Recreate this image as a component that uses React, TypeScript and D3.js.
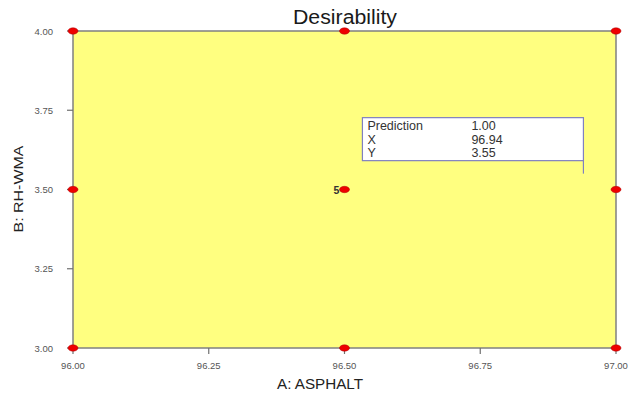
import React from "react";
import * as d3 from "d3";

const xTicks = [96.0, 96.25, 96.5, 96.75, 97.0];
const yTicks = [3.0, 3.25, 3.5, 3.75, 4.0];
const designX = [96.0, 96.0, 96.0, 96.5, 96.5, 96.5, 97.0, 97.0, 97.0];
const designY = [3.0, 3.5, 4.0, 3.0, 3.5, 4.0, 3.0, 3.5, 4.0];
const centerCount = "5";
const predLabels = ["Prediction", "X", "Y"];
const predValues = ["1.00", "96.94", "3.55"];
const predX = 96.94;
const predY = 3.55;

export default function App() {
  const W = 628, H = 397;
  const left = 73, right = 616, top = 31, bottom = 348;
  const x = d3.scaleLinear().domain([96, 97]).range([left, right]);
  const y = d3.scaleLinear().domain([3, 4]).range([bottom, top]);
  const font = "Arial, 'Liberation Sans', sans-serif";
  const px = x(predX), py = y(predY);
  const boxW = 221, boxH = 43, boxDrop = 13;
  const bx = px - boxW, by = py - boxDrop - boxH;
  return (
    <svg width={W} height={H} style={{ position: "absolute", left: 0, top: 0 }} fontFamily={font}>
      <rect x={0} y={0} width={W} height={H} fill="#fff" />
      <text x={345} y={24} textAnchor="middle" fontSize={19.5} fill="#1a1a1a" textLength={104} lengthAdjust="spacingAndGlyphs">Desirability</text>
      <rect x={left} y={top} width={right - left} height={bottom - top} fill="#ffff80" stroke="#808080" strokeWidth={1.5} />
      {xTicks.map((t) => (
        <g key={"x" + t}>
          <line x1={x(t)} x2={x(t)} y1={bottom} y2={bottom + 6} stroke="#707070" strokeWidth={1.2} />
          <text x={x(t)} y={bottom + 21} textAnchor="middle" fontSize={9.5} fill="#555">{t.toFixed(2)}</text>
        </g>
      ))}
      {yTicks.map((t) => (
        <g key={"y" + t}>
          <line x1={left - 6} x2={left} y1={y(t)} y2={y(t)} stroke="#707070" strokeWidth={1.2} />
          <text x={53} y={y(t) + 3.5} textAnchor="end" fontSize={9.5} fill="#555">{t.toFixed(2)}</text>
        </g>
      ))}
      <text x={320} y={389} textAnchor="middle" fontSize={14} fill="#222" textLength={86} lengthAdjust="spacingAndGlyphs">A: ASPHALT</text>
      <text transform={`translate(23,189) rotate(-90)`} textAnchor="middle" fontSize={13} fill="#222" textLength={87} lengthAdjust="spacingAndGlyphs">B: RH-WMA</text>
      {designX.map((dx, i) => (
        <ellipse key={"p" + i} cx={x(dx)} cy={y(designY[i])} rx={5} ry={3.2} fill="#ee0000" stroke="#aa0000" strokeWidth={0.5} />
      ))}
      <text x={x(96.5) - 8} y={y(3.5) + 4} textAnchor="middle" fontSize={10.5} fontWeight="bold" fill="#333">{centerCount}</text>
      <rect x={bx} y={by} width={boxW} height={boxH} fill="#fff" stroke="#8080c0" strokeWidth={1.2} />
      <line x1={px} x2={px} y1={by + boxH} y2={py} stroke="#8080c0" strokeWidth={1.2} />
      {predLabels.map((l, i) => (
        <g key={"r" + i}>
          <text x={bx + 5} y={by + 12.5 + i * 13.5} fontSize={12.5} fill="#333">{l}</text>
          <text x={bx + 109} y={by + 12.5 + i * 13.5} fontSize={12.5} fill="#333">{predValues[i]}</text>
        </g>
      ))}
    </svg>
  );
}
